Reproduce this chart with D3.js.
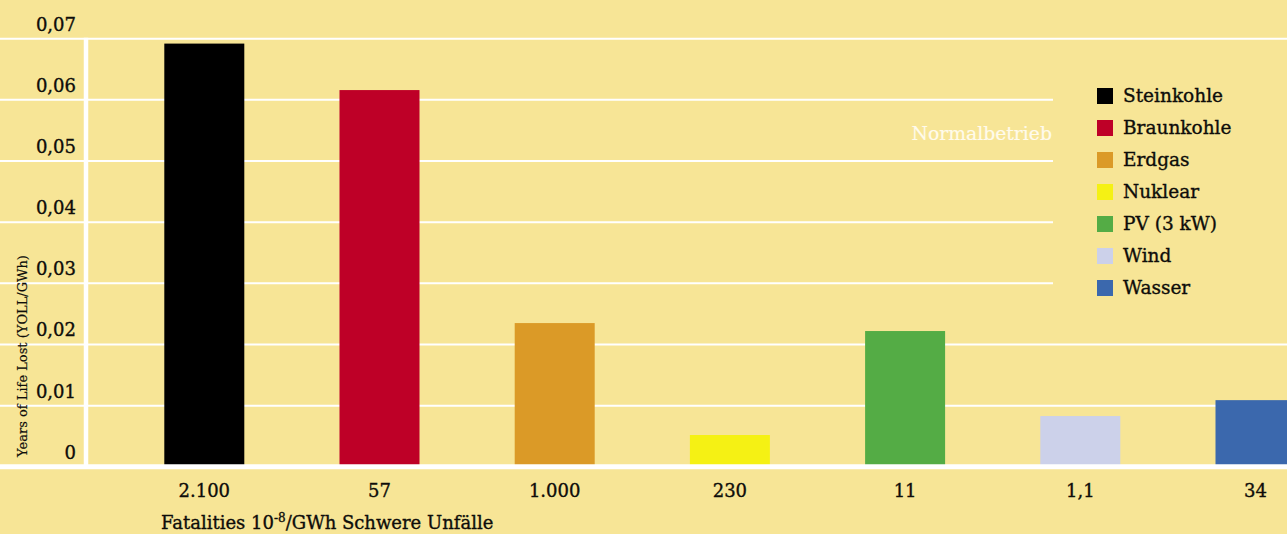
<!DOCTYPE html>
<html>
<head>
<meta charset="utf-8">
<script src="https://cdn.jsdelivr.net/npm/d3@7"></script>
<style>
  html, body { margin: 0; padding: 0; background: #f7e596; }
  svg { display: block; }
  text { font-family: "DejaVu Serif", serif; fill: #0e0d0a; stroke: #0e0d0a; stroke-width: 0.35px; }
  text.light { fill: #fffbec; stroke: #fffbec; stroke-width: 0.2px; }
</style>
</head>
<body>
<svg id="chart" width="1287" height="534"></svg>
<script>
// Energy sources, years of life lost per GWh in normal operation,
// and fatalities (10^-8/GWh) from severe accidents
const categories = ["Steinkohle", "Braunkohle", "Erdgas", "Nuklear", "PV (3 kW)", "Wind", "Wasser"];
const yollValues = [0.0692, 0.0616, 0.0235, 0.0052, 0.0222, 0.0083, 0.0109];
const fatalityLabels = ["2.100", "57", "1.000", "230", "11", "1,1", "34"];
const seriesColors = ["#000000", "#be0027", "#db9a27", "#f5f114", "#54ac45", "#ccd1ea", "#3b68ad"];
const yTickValues = [0, 0.01, 0.02, 0.03, 0.04, 0.05, 0.06, 0.07];

const W = 1287, H = 534;
const bg = "#f7e596";
const svg = d3.select("#chart");

const de = d3.formatLocale({ decimal: ",", thousands: ".", grouping: [3], currency: ["", " €"] });
const tickFmt = v => v === 0 ? "0" : de.format(".2f")(v);

const x = d3.scaleBand()
  .domain(categories)
  .range([116.7, 116.7 + 7 * 175.2])
  .paddingInner(0.5434)
  .paddingOuter(0.2717);

const y = d3.scaleLinear().domain([0, 0.07]).range([466.8, 38.7]);

svg.append("rect").attr("width", W).attr("height", H).attr("fill", bg);

// horizontal grid
svg.append("g")
  .selectAll("line")
  .data(yTickValues.filter(v => v > 0))
  .join("line")
  .attr("x1", 0).attr("x2", W)
  .attr("y1", d => y(d)).attr("y2", d => y(d))
  .attr("stroke", "#ffffff").attr("stroke-width", 2);

// legend panel sits over the grid
svg.append("rect")
  .attr("x", 1053).attr("y", 48)
  .attr("width", W - 1053).attr("height", 270)
  .attr("fill", bg);

// bars
svg.append("g")
  .selectAll("rect")
  .data(categories)
  .join("rect")
  .attr("x", d => x(d))
  .attr("width", x.bandwidth())
  .attr("y", (d, i) => y(yollValues[i]))
  .attr("height", (d, i) => y(0) - y(yollValues[i]))
  .attr("fill", (d, i) => seriesColors[i]);

// baseline and value axis line
svg.append("line")
  .attr("x1", 0).attr("x2", W)
  .attr("y1", y(0)).attr("y2", y(0))
  .attr("stroke", "#ffffff").attr("stroke-width", 5);

svg.append("line")
  .attr("x1", 86).attr("x2", 86)
  .attr("y1", y(0.07) - 1).attr("y2", y(0))
  .attr("stroke", "#ffffff").attr("stroke-width", 4.5);

// y tick labels, placed just above each grid line
svg.append("g")
  .selectAll("text")
  .data(yTickValues)
  .join("text")
  .attr("x", 76)
  .attr("y", d => y(d) - 8)
  .attr("text-anchor", "end")
  .attr("font-size", 18)
  .text(tickFmt);

// y axis title
svg.append("text")
  .attr("transform", `translate(26.5, ${356}) rotate(-90)`)
  .attr("text-anchor", "middle")
  .attr("font-size", 13)
  .style("stroke-width", "0.2px")
  .text("Years of Life Lost (YOLL/GWh)");

// fatality labels under each bar
svg.append("g")
  .selectAll("text")
  .data(categories)
  .join("text")
  .attr("x", d => x(d) + x.bandwidth() / 2)
  .attr("y", 497)
  .attr("text-anchor", "middle")
  .attr("font-size", 18)
  .text((d, i) => fatalityLabels[i]);

// x caption with superscript exponent
const cap = svg.append("text")
  .attr("x", 161)
  .attr("y", 529)
  .attr("font-size", 18);
cap.append("tspan").text("Fatalities 10");
cap.append("tspan").attr("dy", -7).attr("font-size", 12).text("-8");
cap.append("tspan").attr("dy", 7).text("/GWh Schwere Unfälle");

// "Normalbetrieb" annotation
svg.append("text")
  .attr("class", "light")
  .attr("x", 1052)
  .attr("y", 140)
  .attr("text-anchor", "end")
  .attr("font-size", 18.8)
  .text("Normalbetrieb");

// legend
const legend = svg.append("g")
  .selectAll("g")
  .data(categories)
  .join("g")
  .attr("transform", (d, i) => `translate(1097, ${88 + i * 32})`);

legend.append("rect")
  .attr("width", 16).attr("height", 16)
  .attr("fill", (d, i) => seriesColors[i]);

legend.append("text")
  .attr("x", 26)
  .attr("y", 14)
  .attr("font-size", 18.5)
  .text(d => d);
</script>
</body>
</html>
